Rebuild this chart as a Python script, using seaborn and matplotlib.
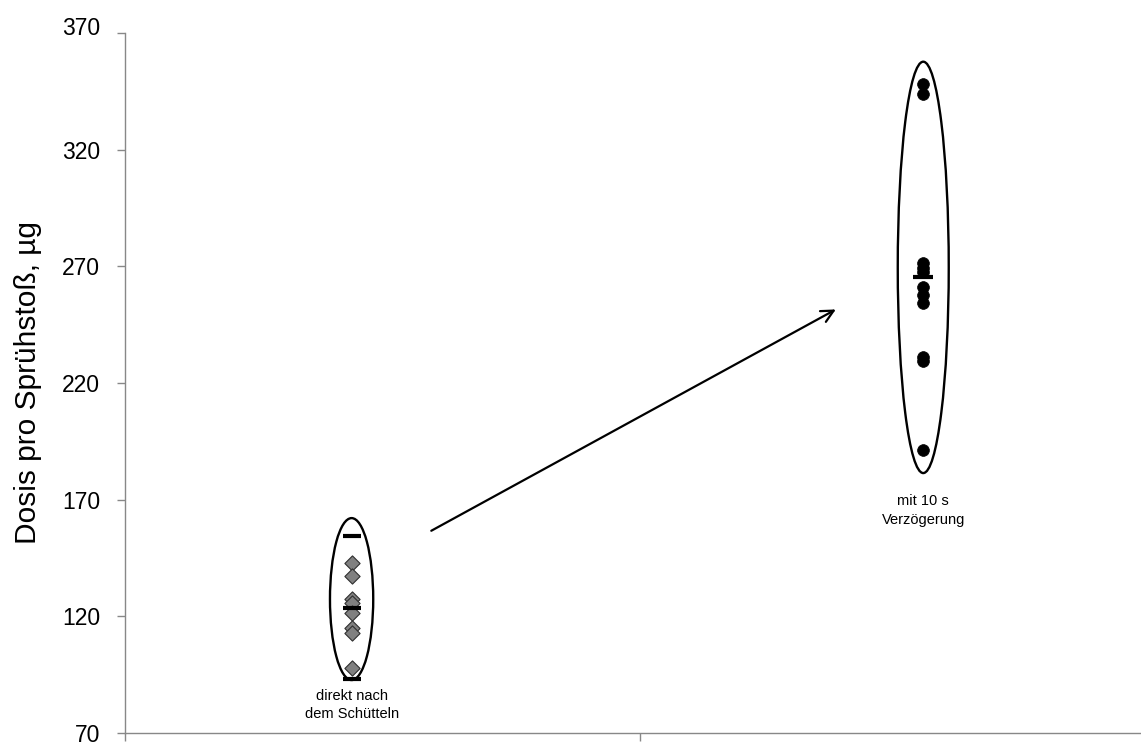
import numpy as np
import pandas as pd
import matplotlib
matplotlib.use("Agg")
import matplotlib.pyplot as plt
from matplotlib.patches import Ellipse
from matplotlib.transforms import ScaledTranslation
import seaborn as sns

# values
direkt_vals = [142.8, 137.3, 127.4, 125.7, 121.4, 115.0, 112.9, 97.8]
verz_vals = [348.1, 343.7, 271.3, 269.1, 267.6, 261.3, 257.7, 254.1, 231.2, 229.6, 191.3]
direkt_marks = [154.4, 123.6, 93.1]
verz_marks = [265.6]
group_x = [0.44, 1.55]
group_labels = ["direkt nach\ndem Schütteln", "mit 10 s\nVerzögerung"]
label_y = [82, 165.5]
ellipse_lo = [92.7, 181.4]
ellipse_hi = [162.1, 357.7]
ellipse_w = [0.084, 0.099]
arrow_from = (0.59, 156.1)
arrow_to = (1.385, 252.1)
yticks = [70, 120, 170, 220, 270, 320, 370]

sns.set_style("white")
plt.rcParams["font.family"] = ["Liberation Sans", "DejaVu Sans"]

df = pd.DataFrame({
    "x": [group_x[0]] * len(direkt_vals) + [group_x[1]] * len(verz_vals),
    "dose": direkt_vals + verz_vals,
    "grp": ["direkt"] * len(direkt_vals) + ["verz"] * len(verz_vals),
})

fig = plt.figure(figsize=(11.41, 7.45), dpi=100)
ax = fig.add_axes([125 / 1141, 12 / 745, 1 - 125 / 1141, 700 / 745])

sns.scatterplot(data=df[df.grp == "direkt"], x="x", y="dose", marker="D", s=60,
                color="#808080", edgecolor="#303030", linewidth=0.8, ax=ax, zorder=3)
sns.scatterplot(data=df[df.grp == "verz"], x="x", y="dose", marker="o", s=72,
                color="black", edgecolor="black", linewidth=0.5, ax=ax, zorder=3)

ax.plot([group_x[0]] * len(direkt_marks), direkt_marks, ls="none", marker="_",
        ms=13, mew=3, color="black", zorder=4)
ax.plot([group_x[1]] * len(verz_marks), verz_marks, ls="none", marker="_",
        ms=14, mew=3, color="black", zorder=4)

for gx, lo, hi, w in zip(group_x, ellipse_lo, ellipse_hi, ellipse_w):
    ax.add_patch(Ellipse((gx, (lo + hi) / 2), w, hi - lo, fill=False,
                         edgecolor="black", lw=1.7, zorder=2))

for gx, ly, lab in zip(group_x, label_y, group_labels):
    ax.text(gx, ly, lab, ha="center", va="center", fontsize=10.5,
            linespacing=1.45, color="black")

ax.annotate("", xy=arrow_to, xytext=arrow_from,
            arrowprops=dict(arrowstyle="->", color="black", lw=1.6, mutation_scale=22))

ax.set_xlim(0, 1016 / 515)
ax.set_ylim(70, 370)
ax.set_yticks(yticks)
ax.set_xticks([0, 1])
ax.set_xticklabels([])
ax.set_xlabel("")
ax.set_ylabel("Dosis pro Sprühstoß, µg", fontsize=21.5, labelpad=14, color="black")
ax.tick_params(axis="y", left=True, labelsize=16.5, direction="out", length=6,
               width=1, color="#888888", pad=12, labelcolor="black")
ax.tick_params(axis="x", bottom=True, direction="out", length=6, width=1, color="#888888")
for s in ["top", "right"]:
    ax.spines[s].set_visible(False)
for s in ["left", "bottom"]:
    ax.spines[s].set_color("#888888")
    ax.spines[s].set_linewidth(1)

# top tick label sits a bit higher in the reference
top = ax.get_yticklabels()[-1]
top.set_transform(top.get_transform() + ScaledTranslation(0, 0.07, fig.dpi_scale_trans))

fig.savefig("out.png", dpi=100)
